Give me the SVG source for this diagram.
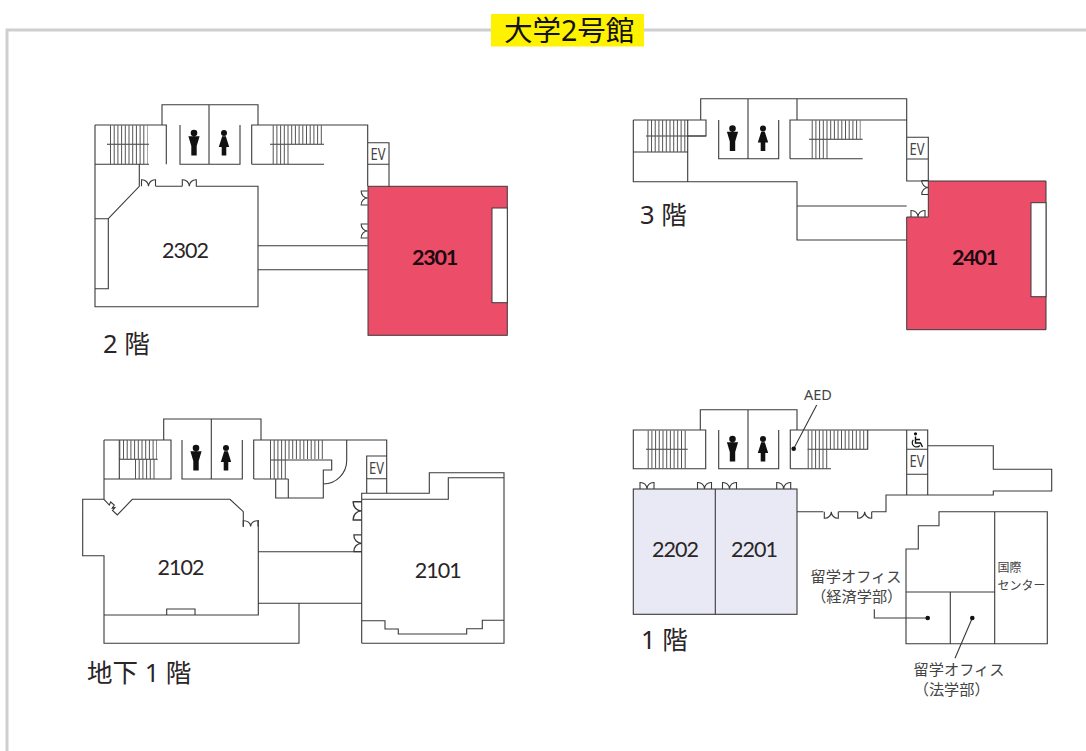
<svg xmlns="http://www.w3.org/2000/svg" width="1086" height="751" viewBox="0 0 1086 751">
<style>
text{font-family:"Noto Sans","Noto Sans CJK JP",sans-serif;fill:#2a2526}
.w{fill:none;stroke:#3a3a3a;stroke-width:1.1}
.r{fill:none;stroke:#555;stroke-dasharray:1 2.7}
.n{font-family:Lato,"Noto Sans",sans-serif;font-size:21.500px;letter-spacing:-1px;text-anchor:middle}
.b{font-family:Lato,"Noto Sans",sans-serif;font-size:21.500px;font-weight:700;letter-spacing:-1.200px;text-anchor:middle;fill:#1d0a10}
.f{font-size:25.500px}
.l{font-size:15.200px;text-anchor:middle;fill:#444}
.s{font-size:12px;fill:#444}
.ev{font-size:16px;fill:#444}
.a{font-size:14.500px;text-anchor:middle;fill:#444}
.k{fill:#111}
.red{fill:#ec4e6a;stroke:#3a3a3a;stroke-width:1}
</style>
<defs>
<path id="door" class="w" d="M0 0V-6.500A6.500 6.500 0 0 1 7 0A6.500 6.500 0 0 1 14 -6.500V0"/>
<path id="man" class="k" d="M-3.300 0a3.300 3.300 0 1 0 6.600 0a3.300 3.300 0 1 0-6.600 0ZM-5.600 3.200H5.600L2.700 13V22.500H-2.700V13Z"/>
<path id="woman" class="k" d="M-3 0a3 3 0 1 0 6 0a3 3 0 1 0-6 0ZM-1.800 3.200H1.800L5.200 14H2.300V22.500H-2.300V14H-5.200Z"/>
</defs>

<g id="frame">
<path d="M491 30H7V751M644 30H1086" fill="none" stroke="#cfcfcf" stroke-width="3"/>
<rect x="491" y="14" width="153" height="32.500" fill="#fff200"/>
<text x="504" y="41" font-size="28.500" style="fill:#111">大学2号館</text>
</g>

<g id="floor-2">
<rect class="red" x="368" y="186.300" width="139.300" height="149"/>
<rect x="492" y="208" width="15.300" height="94.700" fill="#fff" stroke="#3a3a3a"/>
<path class="w" d="M162 125V104.700H258V125M209 104.700V164.300M95 125H166.300V164.300M180 125V164.300H240V125M251.700 164.300V125H367.700V186.300M251.700 164.300H324M95 125V306.700H258V186.300H196M182.300 186.300H155.700M139.300 164.300V186.300L108.300 218.700M95 164.300H149M95 218.700H108.300V288.700H95M258 245.700H367.700M258 269.700H367.700M367.700 142.700H389V186.300M367.700 164.300H389"/>
<path class="w" d="M107 144.300H149M270 144.200H324"/>
<path class="r" stroke-width="39" d="M110 144.700H147.500"/>
<path class="r" stroke-width="19" d="M272.700 134.700H322"/>
<path class="r" stroke-width="20" d="M272.700 154.300H290"/>
<use href="#door" x="141.500" y="186.300"/>
<use href="#door" x="182.300" y="186.300"/>
<use href="#door" transform="translate(367.700 205) rotate(-90)"/>
<use href="#door" transform="translate(367.700 238) rotate(-90)"/>
<use href="#man" x="194" y="133"/>
<use href="#woman" x="224" y="133"/>
<text class="ev" x="370.500" y="160" textLength="15" lengthAdjust="spacingAndGlyphs">EV</text>
<text class="n" x="185" y="257.500">2302</text>
<text class="b" x="434.500" y="265">2301</text>
<text class="f" x="103" y="353">2 階</text>
</g>

<g id="floor-3">
<path class="red" d="M928.300 181H1046V329.700H906.700V217H928.300Z"/>
<rect x="1031" y="202.700" width="15" height="94" fill="#fff" stroke="#3a3a3a"/>
<path class="w" d="M700.700 120V98.700H906.700V181H928.300M748 98.700V158.700M797 98.700V120M790 158.700V120H906.700M906.700 137.300H928.300V181M906.700 159H928.300M633.300 120H706V136H687.700M633.300 120V181.700H797V240H906.700M687.700 120V181.700M633.300 152H687.700M797 206H906.700M718.700 120V158.700H778.700V120M790 158.700H862.700"/>
<path class="w" d="M646 136H706M809 139.300H862.700"/>
<path class="r" stroke-width="32" d="M647.300 136H687"/>
<path class="r" stroke-width="19" d="M811.700 129.700H860.500"/>
<path class="r" stroke-width="20" d="M811.700 149H829"/>
<use href="#door" transform="translate(928.300 194.500) rotate(-90)"/>
<use href="#door" x="911" y="217"/>
<use href="#man" x="732.500" y="128.500"/>
<use href="#woman" x="763" y="128.500"/>
<text class="ev" x="909.500" y="155" textLength="15" lengthAdjust="spacingAndGlyphs">EV</text>
<text class="b" x="974.500" y="265">2401</text>
<text class="f" x="640" y="224">3 階</text>
</g>

<g id="floor-b1">
<path class="w" d="M163.700 440V419H261V440M211.300 419V479M104 440H171V479H104M104 440V499.300H82.700V555.700H104V643.300H299V603.300M104 499.300L109.300 505L110.700 502L114.300 505L112.300 508L115 507.500L112.500 510.500L117.300 515L132.300 499.300H230L243.300 511.700V527M258.300 520V615H104M166.700 615V609H195V615M182 440V479H242.300V440M253.700 479V440H386.700V493.300M253.700 479H288.300M119.300 440V479M119.300 459.300H157.700M270 460H331.700V470H323.300V498H275.700V479M288.300 479V498M346.700 440V460A23.500 23.500 0 0 1 323.300 484M366.700 493.300V456H386.700M366.700 478.700H386.700M361.700 643.300V493.300H429.300V472.700H504V643.300H361.700M361.700 499.300H448.300V477.700H504M361.700 620.700H385V629H398.300V634H466.700V628.700H482.300V620.300H504M258.500 551.700H361.700M258.500 603.300H361.700"/>
<path class="r" stroke-width="19" d="M119.300 449.600H157"/>
<path class="r" stroke-width="20" d="M135 469H157"/>
<path class="r" stroke-width="19" d="M270 449.600H323"/>
<path class="r" stroke-width="20" d="M270 469H288"/>
<use href="#door" transform="translate(361.700 520) rotate(-90) scale(1.300)"/>
<use href="#door" transform="translate(361.700 551.700) rotate(-90) scale(1.200)"/>
<use href="#door" transform="translate(243.300 526.500) scale(1.050 .9)"/>
<use href="#man" x="196" y="448"/>
<use href="#woman" x="226" y="448"/>
<text class="ev" x="369" y="474" textLength="15" lengthAdjust="spacingAndGlyphs">EV</text>
<text class="n" x="180.500" y="574.500">2102</text>
<text class="n" x="437.700" y="578">2101</text>
<text class="f" x="87" y="682">地下 1 階</text>
</g>

<g id="floor-1">
<rect x="633.300" y="489" width="163.700" height="125.300" fill="#e8e9f5" stroke="#3a3a3a" stroke-width="1.100"/>
<path class="w" d="M715.300 489V614.300M700.300 430V409.700H797V430M748 409.700V468.700M633.300 430H705.700V468.700H633.300ZM718.700 430V468.700H778.700V430M790.300 468.700V430H927.700V495M790.300 468.700H831M906.700 430V495M906.700 449.300H927.700M906.700 474.300H927.700M927.700 445.700H993.300V469.300H1051.700V491H993.300V495H886V511.700H871.700M857.700 511.700H838.300M823.300 511.700H797M906 549V643.700H1047.300V511.700H939V525.700H918.300V549ZM994.700 511.700V643.700M906 592H994.700M950.300 592V643.700M807.700 449.300H867.700V430"/>
<path class="w" d="M646 449.300H687.700"/>
<path class="r" stroke-width="38" d="M647.700 449.500H687"/>
<path class="r" stroke-width="19" d="M807.700 439.700H867"/>
<path class="r" stroke-width="20" d="M807.700 459H829"/>
<use href="#door" x="640" y="489"/>
<use href="#door" x="697.500" y="489"/>
<use href="#door" x="722.500" y="489"/>
<use href="#door" x="776.700" y="489"/>
<use href="#door" transform="translate(838.300 511.700) rotate(180)"/>
<use href="#door" transform="translate(871.700 511.700) rotate(180)"/>
<use href="#man" x="732.500" y="439"/>
<use href="#woman" x="763" y="439"/>
<g id="accessible">
<circle cx="915.500" cy="433.800" r="1.600" fill="#111"/>
<path d="M915.500 436.500V443H920.500L922.500 447M915.500 439.500H920" fill="none" stroke="#111" stroke-width="1.400"/>
<path d="M913.300 439.800A4.200 4.200 0 1 0 919.800 445.500" fill="none" stroke="#111" stroke-width="1.200"/>
</g>
<g id="leaders">
<path class="w" d="M793.700 448.700L816.700 405M972.300 618L955 658.300M927.700 618H874.300V609.300"/>
<circle cx="793.700" cy="448.700" r="2.300" fill="#111"/>
<circle cx="927.700" cy="618" r="2.300" fill="#111"/>
<circle cx="972.300" cy="618" r="2.300" fill="#111"/>
</g>
<text class="ev" x="909.500" y="467" textLength="15" lengthAdjust="spacingAndGlyphs">EV</text>
<text class="n" x="675" y="556.500">2202</text>
<text class="n" x="754" y="556.500">2201</text>
<text class="f" x="641" y="648.500">1 階</text>
<text class="a" x="818" y="400">AED</text>
<text class="l" x="856" y="582">留学オフィス</text>
<text class="l" x="856.700" y="602">（経済学部）</text>
<text class="l" x="959" y="675">留学オフィス</text>
<text class="l" x="951.700" y="695">（法学部）</text>
<text class="s" x="997.500" y="572">国際</text>
<text class="s" x="997.500" y="590">センター</text>
</g>
</svg>
